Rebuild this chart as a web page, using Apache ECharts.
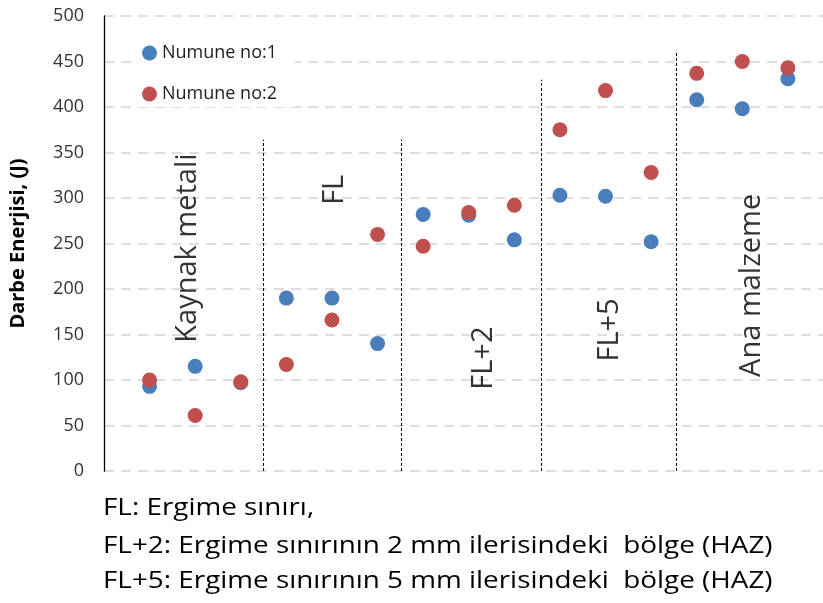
<!DOCTYPE html>
<html><head><meta charset="utf-8">
<script src="https://cdn.jsdelivr.net/npm/echarts@6/dist/echarts.min.js"></script>
<style>html,body{margin:0;padding:0;background:#fff}#c{width:823px;height:603px}</style>
</head><body><div id="c"></div>
<script>
const xPos = [1,2,3,4,5,6,7,8,9,10,11,12,13,14,15];
const numune1 = [93,115,97,190,190,140,282,281,254,303,302,252,408,398,431];
const numune2 = [100,61,98,117,166,260,247,284,292,375,418,328,437,450,443];
const yTicks = [0,50,100,150,200,250,300,350,400,450,500];
const zoneNames = ['Kaynak metali','FL','FL+2','FL+5','Ana malzeme'];
const zoneLabelX = [1.83,5.07,8.32,11.1,14.2];
const zoneLabelY = [245,309,124,155,204];
const dividerX = [3.5,6.53,9.6,12.55];
const dividerTop = [364,364,430,462];
const notes = ['FL: Ergime sınırı,','FL+2: Ergime sınırının 2 mm ilerisindeki  bölge (HAZ)','FL+5: Ergime sınırının 5 mm ilerisindeki  bölge (HAZ)'];

const FONT = "'Open Sans', 'Noto Sans', sans-serif";
const chart = echarts.init(document.getElementById('c'));
chart.setOption({
  animation:false,
  backgroundColor:'#fff',
  grid:{left:104,right:0,top:16,bottom:132,containLabel:false,outerBoundsMode:'none'},
  legend:{
    orient:'vertical', left:138, top:40, itemGap:23, itemWidth:15, itemHeight:15,
    backgroundColor:'#fff', padding:[4,18,4,4],
    textStyle:{fontFamily:FONT,fontSize:18,color:'#222'},
    data:[{name:'Numune no:1',icon:'circle'},{name:'Numune no:2',icon:'circle'}]
  },
  xAxis:{type:'value',min:0,max:15.77,show:true,axisLine:{show:false},axisTick:{show:false},axisLabel:{show:false},splitLine:{show:false}},
  yAxis:{type:'value',min:0,max:500,interval:50,
    name:'Darbe Enerjisi, (J)',nameLocation:'middle',nameGap:76,
    nameTextStyle:{fontFamily:FONT,fontSize:20,fontWeight:'bold',color:'#000'},
    axisLine:{show:true,lineStyle:{color:'#000',width:1.3}},
    axisTick:{show:false},
    axisLabel:{fontFamily:FONT,fontSize:18,color:'#333',margin:20},
    splitLine:{show:true,lineStyle:{color:'#d4d4d4',width:1.6,type:[10,7]}}
  },
  series:[
    {name:'Numune no:1',type:'scatter',symbolSize:15,itemStyle:{color:'#4a7ebb',opacity:1},z:3,
     data:xPos.map((x,i)=>[x,numune1[i]])},
    {name:'Numune no:2',type:'scatter',symbolSize:15,itemStyle:{color:'#c0504d',opacity:1},z:4,
     data:xPos.map((x,i)=>[x,numune2[i]])},
    {name:'zones',type:'scatter',symbolSize:0,silent:true,z:5,
     data:zoneNames.map((n,i)=>({value:[zoneLabelX[i],zoneLabelY[i]],name:n})),
     label:{show:true,formatter:p=>p.name,rotate:90,position:'inside',align:'center',verticalAlign:'middle',
       fontFamily:FONT,fontSize:29,color:'#000'},
     markLine:{silent:true,symbol:'none',label:{show:false},
       lineStyle:{color:'#000',width:1,type:[3,2]},
       data:dividerX.map((x,i)=>[{coord:[x,0]},{coord:[x,dividerTop[i]]}])}
    }
  ],
  graphic:notes.map((t,i)=>({type:'text',x:103,y:[508,546,581][i],scaleX:1.16,
    style:{text:t,x:0,y:0,fontFamily:FONT,fontSize:24,fill:'#000',verticalAlign:'middle'}}))
});
</script></body></html>
